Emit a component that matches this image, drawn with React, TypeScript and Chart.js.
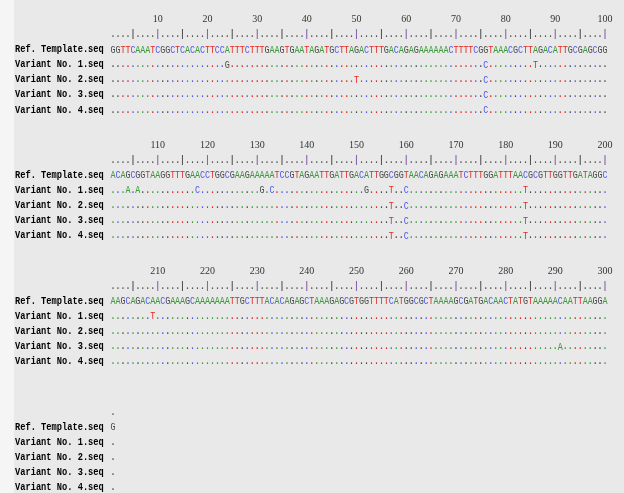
import React, { useEffect, useRef } from "react";
import { Chart, registerables } from "chart.js";

Chart.register(...registerables);

// ---------- data ----------
const rowNames = [
  "Ref. Template.seq",
  "Variant No. 1.seq",
  "Variant No. 2.seq",
  "Variant No. 3.seq",
  "Variant No. 4.seq",
];

// reference sequence, in chunks of 10 bases (positions 1..301)
const refChunks = [
  "GGTTCAAATC", "GGCTCACACT", "TCCATTTCTT", "TGAAGTGAAT", "AGATGCTTAG",
  "ACTTTGACAG", "AGAAAAAACT", "TTTCGGTAAA", "CGCTTAGACA", "TTGCGAGCGG",
  "ACAGCGGTAA", "GGTTTGAACC", "TGGCGAAGAA", "AAATCCGTAG", "AATTGATTGA",
  "CATTGGCGGT", "AACAGAGAAA", "TCTTTGGATT", "TAACGCGTTG", "GTTGATAGGC",
  "AAGCAGACAA", "CGAAAGCAAA", "AAAATTGCTT", "TACACAGAGC", "TAAAGAGCGT",
  "GGTTTTCATG", "GCGCTAAAAG", "CGATGACAAC", "TATGTAAAAA", "CAATTAAGGA",
  "G",
];

// differences from the reference: [position, base]
const variant1: [number, string][] = [
  [24, "G"], [86, "T"], [76, "C"], [104, "A"], [106, "A"], [118, "C"], [131, "G"],
  [133, "C"], [152, "G"], [157, "T"], [160, "C"], [184, "T"], [209, "T"],
];
const variant2: [number, string][] = [[50, "T"], [76, "C"], [157, "T"], [160, "C"], [184, "T"]];
const variant3: [number, string][] = [[76, "C"], [157, "T"], [160, "C"], [184, "T"], [291, "A"]];
const variant4: [number, string][] = [[76, "C"], [157, "T"], [160, "C"], [184, "T"]];
const variants = [variant1, variant2, variant3, variant4];

const BLOCK_LEN = 100;
const TICK_EVERY = 10;
const MINOR_EVERY = 5;

// ---------- layout / style ----------
const W = 624;
const H = 493;
const X_MIN = -21.74;
const X_MAX = 103.81;
const Y_MIN = -1.3;
const Y_MAX = 31.4;
const BLOCK_STEP = 8.35;
const LABEL_X = -18.72;

const baseColor: Record<string, string> = {
  A: "#3a9a3a",
  C: "#4f55ee",
  G: "#4a4a4a",
  T: "#e3261e",
};

type Pt = { x: number; y: number; t: string; c: string };

function buildDatasets() {
  const ref = refChunks.join("");
  const total = ref.length;
  const nBlocks = Math.ceil(total / BLOCK_LEN);
  const labels: Pt[] = [];
  const numbers: Pt[] = [];
  const ruler: Pt[] = [];
  const seqs: Pt[] = [];
  const dots: Pt[] = [];
  const muts: Pt[] = [];
  const varMaps = variants.map((v) => new Map(v));
  for (let b = 0; b < nBlocks; b++) {
    const y0 = b * BLOCK_STEP;
    rowNames.forEach((n, r) => labels.push({ x: LABEL_X, y: y0 + 2 + r, t: n, c: "#000" }));
    for (let p = b * BLOCK_LEN + 1; p <= Math.min(total, (b + 1) * BLOCK_LEN); p++) {
      const x = p - b * BLOCK_LEN;
      const base = ref[p - 1];
      if (p % TICK_EVERY === 0) numbers.push({ x, y: y0, t: String(p), c: "#333" });
      if (p % TICK_EVERY === 0) ruler.push({ x, y: y0 + 1, t: "|", c: "#8a64a8" });
      else if (p % MINOR_EVERY === 0) ruler.push({ x, y: y0 + 1, t: "|", c: "#555" });
      else ruler.push({ x, y: y0 + 1, t: ".", c: "#555" });
      seqs.push({ x, y: y0 + 2, t: base, c: baseColor[base] });
      varMaps.forEach((m, vi) => {
        const alt = m.get(p);
        if (alt) muts.push({ x, y: y0 + 3 + vi, t: alt, c: baseColor[alt] });
        else dots.push({ x, y: y0 + 3 + vi, t: ".", c: baseColor[base] });
      });
    }
  }
  return [
    { label: "labels", data: labels },
    { label: "numbers", data: numbers },
    { label: "ruler", data: ruler },
    { label: "seqs", data: seqs },
    { label: "dots", data: dots },
    { label: "muts", data: muts },
  ];
}

const STYLES: Record<string, { font: string; align: CanvasTextAlign; sx: number }> = {
  labels: { font: "bold 10px 'Liberation Mono'", align: "left", sx: 0.87 },
  numbers: { font: "10px 'Liberation Serif'", align: "center", sx: 1 },
  ruler: { font: "bold 10px 'Liberation Mono'", align: "center", sx: 0.83 },
  seqs: { font: "10.5px 'Liberation Mono'", align: "center", sx: 0.8 },
  dots: { font: "bold 10px 'Liberation Mono'", align: "center", sx: 0.83 },
  muts: { font: "10.5px 'Liberation Mono'", align: "center", sx: 0.8 },
};

const textPlugin = {
  id: "seqText",
  afterDatasetsDraw(chart: any) {
    const ctx: CanvasRenderingContext2D = chart.ctx;
    chart.data.datasets.forEach((ds: any, i: number) => {
      const meta = chart.getDatasetMeta(i);
      const st = STYLES[ds.label];
      ctx.save();
      ctx.font = st.font;
      ctx.textAlign = st.align;
      ctx.textBaseline = "middle";
      meta.data.forEach((el: any, j: number) => {
        const raw = ds.data[j] as Pt;
        ctx.save();
        ctx.translate(el.x, el.y);
        ctx.scale(st.sx, 1);
        ctx.fillStyle = raw.c;
        ctx.fillText(raw.t, 0, 0);
        ctx.restore();
      });
      ctx.restore();
    });
  },
};

export default function App() {
  const ref = useRef<HTMLCanvasElement | null>(null);
  useEffect(() => {
    if (!ref.current) return;
    const chart = new Chart(ref.current, {
      type: "scatter",
      data: { datasets: buildDatasets() as any },
      options: {
        animation: false,
        responsive: true,
        maintainAspectRatio: false,
        events: [],
        layout: { padding: 0 },
        elements: { point: { radius: 0, hoverRadius: 0 } },
        plugins: { legend: { display: false }, tooltip: { enabled: false } },
        scales: {
          x: { type: "linear", display: false, min: X_MIN, max: X_MAX },
          y: { type: "linear", display: false, min: Y_MIN, max: Y_MAX, reverse: true },
        },
      },
      plugins: [textPlugin],
    });
    return () => chart.destroy();
  }, []);
  return (
    <div
      style={{
        position: "fixed",
        left: 0,
        top: 0,
        width: W,
        height: H,
        background: "linear-gradient(to right, #f5f5f5 0px, #f5f5f5 14px, #e9e9e9 14px)",
      }}
    >
      <canvas ref={ref} />
    </div>
  );
}
